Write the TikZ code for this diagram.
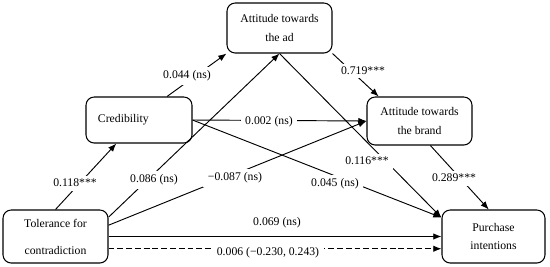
\documentclass[tikz,border=0pt]{standalone}
\usepackage{fontspec}
\setmainfont{Liberation Serif}
\usetikzlibrary{arrows.meta}

\tikzset{
  cbox/.style={draw, rounded corners=7pt, line width=.9pt, align=center, minimum width=3.15cm, font=\fontsize{10}{16}\selectfont},
  cpath/.style={line width=.8pt, -{Latex[length=7pt, width=5.5pt]}},
  coef/.style={fill=white, inner xsep=4pt, inner ysep=3pt, font=\fontsize{10}{12}\selectfont}
}

\begin{document}
\begin{tikzpicture}[x=0.03cm, y=-0.03cm]
\useasboundingbox (0,0) rectangle (550,266);
\node[cbox, minimum height=1.5cm] (ad) at (279.5,28) {Attitude towards\\the ad};
\node[cbox, minimum height=1.38cm, minimum width=3.18cm, text width=2.46cm, align=left] (cred) at (139,120) {Credibility};
\node[cbox, minimum height=1.44cm] (brand) at (419.5,121) {Attitude towards\\the brand};
\node[cbox, minimum height=1.59cm] (tol) at (55.5,236.5) {Tolerance for\\[7pt]contradiction};
\node[cbox, minimum height=1.59cm, minimum width=3.09cm] (pur) at (493.5,236.5) {Purchase\\intentions};
\draw[cpath] (tol.north) -- (cred.226);
\draw[cpath] (cred.40) -- (ad.south west);
\draw[cpath] (tol.20) -- (ad.south);
\draw[cpath] (tol.12) -- (brand.west);
\draw[cpath] (cred.east) -- (brand.west);
\draw[cpath] (cred.east) -- (pur.160);
\draw[cpath] (ad.south) -- (pur.160);
\draw[cpath] (ad.south east) -- (brand.149);
\draw[cpath] (brand.294) -- (pur.100);
\draw[cpath] (tol.east) -- (pur.west);
\draw[cpath, dash pattern=on 5pt off 2.5pt] (tol.-13) -- (tol.-13 -| pur.west);
\node[coef] (l118) at (75,183) {0.118***};
\node[coef] (l044) at (187,76) {0.044 (ns)};
\node[coef] (l086) at (154,180) {0.086 (ns)};
\node[coef] (l087) at (235,178) {−0.087 (ns)};
\node[coef] (l002) at (269,122) {0.002 (ns)};
\node[coef] (l719) at (363,71) {0.719***};
\node[coef] (l116) at (367,161) {0.116***};
\node[coef] (l045) at (335,184) {0.045 (ns)};
\node[coef] (l289) at (454,178) {0.289***};
\node[coef] (l069) at (277,223) {0.069 (ns)};
\node[coef] (l006) at (268,253) {0.006 (−0.230, 0.243)};
\end{tikzpicture}
\end{document}
